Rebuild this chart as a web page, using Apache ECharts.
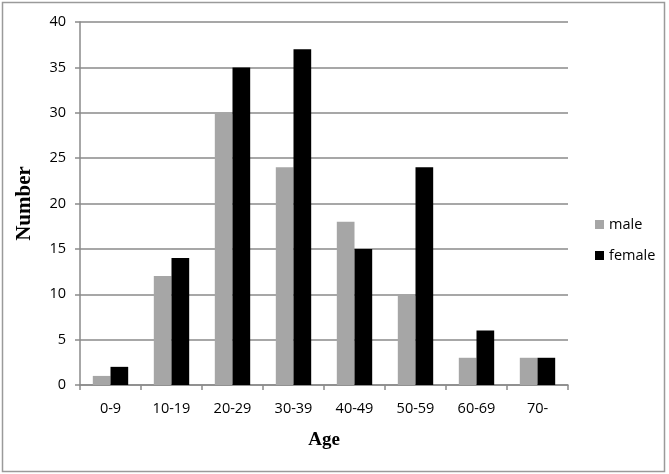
<!DOCTYPE html>
<html><head><meta charset="utf-8">
<script src="https://cdn.jsdelivr.net/npm/echarts@6/dist/echarts.min.js"></script>
<style>html,body{margin:0;padding:0;background:#fff}#c{width:669px;height:474px}</style>
</head><body><div id="c"></div>
<script>
var categories = ['0-9','10-19','20-29','30-39','40-49','50-59','60-69','70-'];
var male = [1,12,30,24,18,10,3,3];
var female = [2,14,35,37,15,24,6,3];
var chart = echarts.init(document.getElementById('c'), null, {renderer:'canvas'});
var tickFont = {fontFamily:'Open Sans', fontSize:14.5, color:'#000'};
chart.setOption({
  animation:false,
  backgroundColor:'#fff',
  graphic:[{type:'rect', shape:{x:2.5,y:2.5,width:662,height:469}, style:{fill:'none', stroke:'#9a9a9a', lineWidth:1.5}, silent:true}],
  grid:{left:80, right:101, top:22, bottom:89},
  legend:{orient:'vertical', left:590, top:212, itemWidth:9, itemHeight:9, itemGap:16, icon:'rect',
    textStyle:{fontFamily:'Open Sans', fontSize:14.5, color:'#000'}, data:['male','female']},
  xAxis:{type:'category', data:categories, name:'Age', nameLocation:'middle', nameGap:46,
    nameTextStyle:{fontFamily:'Liberation Serif', fontWeight:'bold', fontSize:19, color:'#000'},
    axisLine:{lineStyle:{color:'#8a8a8a', width:1.5}},
    axisTick:{show:true, length:5, lineStyle:{color:'#8a8a8a', width:1.5}},
    axisLabel:Object.assign({margin:16}, tickFont)},
  yAxis:{type:'value', min:0, max:40, interval:5, name:'Number', nameLocation:'middle', nameGap:45,
    nameTextStyle:{fontFamily:'Liberation Serif', fontWeight:'bold', fontSize:21, color:'#000'},
    axisLine:{show:true, lineStyle:{color:'#8a8a8a', width:1.5}},
    axisTick:{show:true, length:5, lineStyle:{color:'#8a8a8a', width:1.5}},
    splitLine:{lineStyle:{color:'#8a8a8a', width:1.5}},
    axisLabel:Object.assign({margin:14}, tickFont)},
  series:[
    {name:'male', type:'bar', data:male, barWidth:'29%', barGap:'0%', itemStyle:{color:'#a6a6a6'}},
    {name:'female', type:'bar', data:female, barWidth:'29%', barGap:'0%', itemStyle:{color:'#000'}}
  ]
});
</script></body></html>
